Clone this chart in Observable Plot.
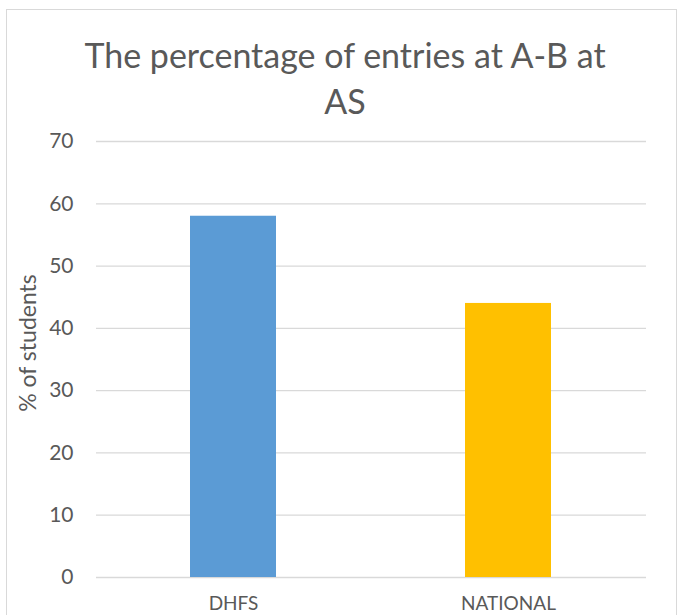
<!DOCTYPE html>
<html>
<head>
<meta charset="utf-8">
<script src="https://cdn.jsdelivr.net/npm/d3@7"></script>
<script src="https://cdn.jsdelivr.net/npm/@observablehq/plot@0.6"></script>
<style>
  html, body { margin: 0; padding: 0; background: #fff; }
  #wrap { position: relative; width: 682px; height: 615px; overflow: hidden; font-family: Lato, "Open Sans", sans-serif; color: #595959; }
  #frame { position: absolute; left: 6px; top: 9px; width: 671px; height: 640px; border: 1px solid #d9d9d9; box-sizing: border-box; }
  #title { position: absolute; left: 4px; top: 32px; width: 682px; text-align: center; font-size: 34px; line-height: 46px; color: #595959; }
  #ylabel { position: absolute; left: 27px; top: 343px; transform: translate(-50%, -50%) rotate(-90deg); white-space: nowrap; font-size: 23px; color: #595959; }
  #chart { position: absolute; left: 0; top: 120px; }
</style>
</head>
<body>
<div id="wrap">
  <div id="frame"></div>
  <div id="title">The percentage of entries at A-B at<br>AS</div>
  <div id="chart"></div>
  <div id="ylabel"></div>
</div>
<script>
const categories = ["DHFS", "NATIONAL"];
const values = [58, 44];
const barColors = ["#5B9BD5", "#FFC000"];
const yTicks = [0, 10, 20, 30, 40, 50, 60, 70];
const yLabel = "% of students";

document.getElementById("ylabel").textContent = yLabel;

const data = categories.map((c, i) => ({ category: c, value: values[i] }));

const plot = Plot.plot({
  width: 682,
  height: 495,
  marginLeft: 96,
  marginRight: 36,
  marginTop: 21,
  marginBottom: 38,
  style: { fontFamily: "Lato, 'Open Sans', sans-serif", fontSize: "21px", color: "#595959", background: "transparent" },
  x: { domain: categories, paddingInner: 0.686, paddingOuter: 0.343, label: null },
  y: { domain: [0, 70], ticks: yTicks, label: null },
  color: { domain: categories, range: barColors },
  marks: [
    Plot.ruleY(yTicks, { stroke: "#d9d9d9", strokeWidth: 1.3 }),
    Plot.barY(data, { x: "category", y: "value", fill: "category" }),
    Plot.axisY({ ticks: yTicks, tickSize: 0, tickPadding: 23, label: null, fill: "#595959", fontSize: 21 }),
    Plot.axisX({ tickSize: 0, tickPadding: 19, label: null, fill: "#595959", fontSize: 19 })
  ]
});
document.getElementById("chart").appendChild(plot);
</script>
</body>
</html>
